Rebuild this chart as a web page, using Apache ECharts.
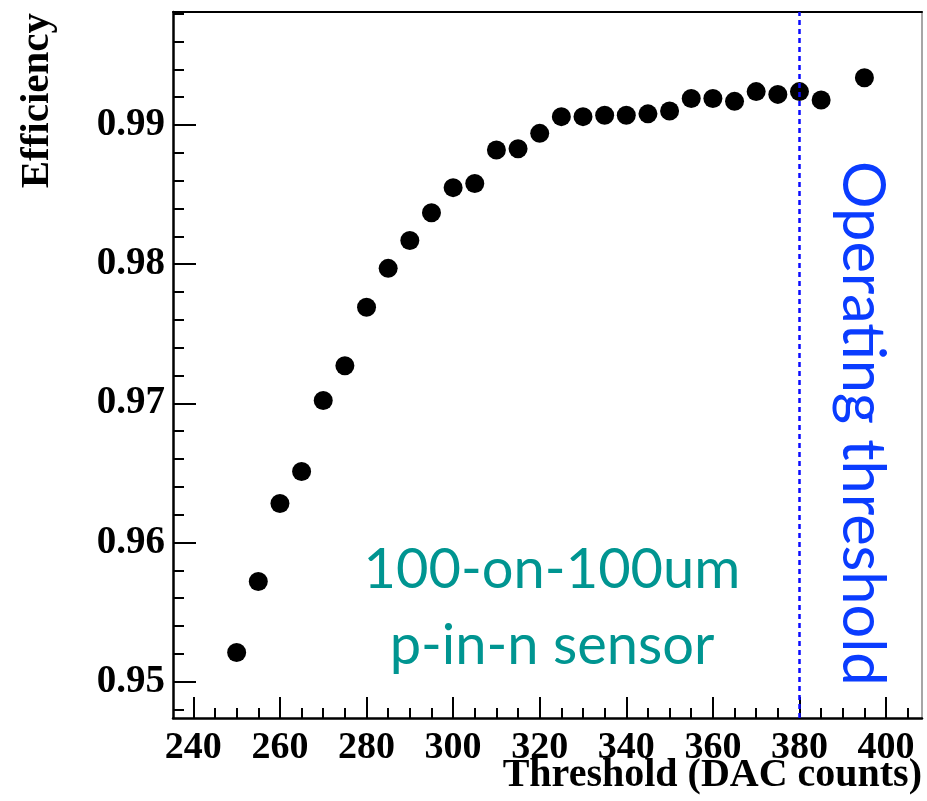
<!DOCTYPE html>
<html>
<head>
<meta charset="utf-8">
<script src="https://cdn.jsdelivr.net/npm/echarts@6/dist/echarts.min.js"></script>
<style>html,body{margin:0;padding:0;background:#fff}#c{width:927px;height:801px}</style>
</head>
<body>
<div id="c"></div>
<script>
// ---- data ----
const thresholds = [250,255,260,265,270,275,280,285,290,295,300,305,310,315,320,325,330,335,340,345,350,355,360,365,370,375,380,385,395];
const efficiency = [0.9521,0.9572,0.9628,0.9651,0.9702,0.9727,0.9769,0.9797,0.9817,0.9837,0.9855,0.9858,0.9882,0.9883,0.9894,0.9906,0.9906,0.9907,0.9907,0.9908,0.9910,0.9919,0.9919,0.9917,0.9924,0.9922,0.9924,0.9918,0.9934];
const xMajorTicks = [240,260,280,300,320,340,360,380,400];
const xMinorTicks = [];
for (let v = 240; v <= 405; v += 5) xMinorTicks.push(v);
const yMajorTicks = [0.95,0.96,0.97,0.98,0.99];
const yMinorTicks = [];
for (let i = 0; i <= 25; i++) yMinorTicks.push(+(0.948 + i*0.002).toFixed(3));
const operatingThreshold = 380;
const xTitle = 'Threshold (DAC counts)';
const yTitle = 'Efficiency';
const sensorText = ['100-on-100um', 'p-in-n sensor'];
const thresholdText = 'Operating threshold';

const X_MIN = 235.3, X_MAX = 408.3, Y_MIN = 0.94739, Y_MAX = 0.99812;
const serif = '"Liberation Serif","Times New Roman",serif';

const chart = echarts.init(document.getElementById('c'), null, {renderer:'canvas'});
const baseX = {type:'value', min:X_MIN, max:X_MAX, splitLine:{show:false}};
const baseY = {type:'value', min:Y_MIN, max:Y_MAX, splitLine:{show:false}};
chart.setOption({
  animation:false,
  backgroundColor:'#fff',
  grid:{left:173, top:12, right:5, bottom:83, containLabel:false},
  xAxis:[
    Object.assign({}, baseX, {position:'bottom',
      axisLine:{onZero:false, lineStyle:{color:'#000', width:2.5}},
      axisTick:{inside:true, length:21, lineStyle:{color:'#000', width:2}, customValues:xMajorTicks},
      axisLabel:{customValues:xMajorTicks, color:'#000', fontFamily:serif, fontWeight:'bold', fontSize:38, margin:11}}),
    Object.assign({}, baseX, {position:'bottom',
      axisLine:{show:false, onZero:false},
      axisTick:{inside:true, length:10, lineStyle:{color:'#000', width:2}, customValues:xMinorTicks},
      axisLabel:{show:false}}),
    Object.assign({}, baseX, {position:'top',
      axisLine:{onZero:false, lineStyle:{color:'#000', width:2}},
      axisTick:{show:false}, axisLabel:{show:false}})
  ],
  yAxis:[
    Object.assign({}, baseY, {position:'left',
      axisLine:{onZero:false, lineStyle:{color:'#000', width:2.5}},
      axisTick:{inside:true, length:23, lineStyle:{color:'#000', width:2}, customValues:yMajorTicks},
      axisLabel:{customValues:yMajorTicks, color:'#000', fontFamily:serif, fontWeight:'bold', fontSize:39, margin:8,
        formatter:v => v.toFixed(2)}}),
    Object.assign({}, baseY, {position:'left',
      axisLine:{show:false, onZero:false},
      axisTick:{inside:true, length:11, lineStyle:{color:'#000', width:2}, customValues:yMinorTicks},
      axisLabel:{show:false}}),
    Object.assign({}, baseY, {position:'right',
      axisLine:{onZero:false, lineStyle:{color:'#888', width:1.5}},
      axisTick:{show:false}, axisLabel:{show:false}})
  ],
  series:[{
    type:'scatter', xAxisIndex:0, yAxisIndex:0,
    data: thresholds.map((t,i)=>[t, efficiency[i]]),
    symbol:'circle', symbolSize:19,
    itemStyle:{color:'#000', opacity:1},
    markLine:{
      silent:true, symbol:['none','none'], label:{show:false},
      lineStyle:{color:'#0a0aff', width:2.5, type:[5,4], opacity:1},
      data:[{xAxis:operatingThreshold}]
    }
  }],
  graphic:[
    {type:'text', x:37, y:13, rotation:Math.PI/2,
      style:{text:yTitle, font:'bold 41px '+serif, fill:'#000', textAlign:'right', textVerticalAlign:'middle'}},
    {type:'text', x:922, y:776,
      style:{text:xTitle, font:'bold 40px '+serif, fill:'#000', textAlign:'right', textVerticalAlign:'middle'}},
    {type:'text', x:552, y:608,
      style:{text:sensorText.join('\n'), font:'56px Lato', lineHeight:76, fill:'#009591', textAlign:'center', textVerticalAlign:'middle'}},
    {type:'text', x:862, y:161, rotation:-Math.PI/2,
      style:{text:thresholdText, font:'59.5px Lato', fill:'#0a3cff', textAlign:'left', textVerticalAlign:'middle'}}
  ]
});
</script>
</body>
</html>
